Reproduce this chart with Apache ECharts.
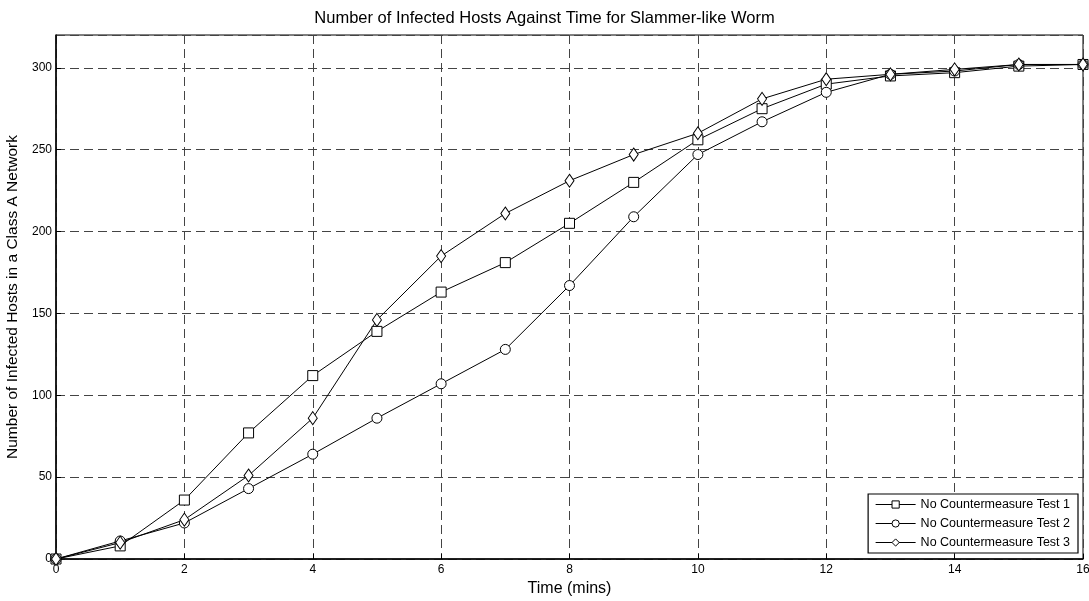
<!DOCTYPE html>
<html>
<head>
<meta charset="utf-8">
<script src="https://cdn.jsdelivr.net/npm/echarts@6/dist/echarts.min.js"></script>
<style>
    html, body { margin: 0; padding: 0; background: #fff; }
    #worm-chart { width: 1089px; height: 601px; }
</style>
</head>
<body>
<div id="worm-chart"></div>
<script>
// data
var minutes = [0, 1, 2, 3, 4, 5, 6, 7, 8, 9, 10, 11, 12, 13, 14, 15, 16];
var test1 = [0, 8, 36, 77, 112, 139, 163, 181, 205, 230, 256, 275, 290, 295, 297, 301, 302];
var test2 = [0, 11, 22, 43, 64, 86, 107, 128, 167, 209, 247, 267, 285, 296, 298, 302, 302];
var test3 = [0, 10, 24, 51, 86, 146, 185, 211, 231, 247, 260, 281, 293, 296, 299, 302, 302];
var seriesNames = ['No Countermeasure Test 1', 'No Countermeasure Test 2', 'No Countermeasure Test 3'];

function pairs(ys) {
    return minutes.map(function (m, i) { return [m, ys[i]]; });
}

function lineSeries(name, ys, symbol, size) {
    return {
        name: name,
        type: 'line',
        data: pairs(ys),
        symbol: symbol,
        symbolSize: size,
        showAllSymbol: true,
        lineStyle: { color: '#000', width: 1 },
        itemStyle: { color: '#fff', borderColor: '#000', borderWidth: 1 },
        emphasis: { disabled: true },
        animation: false
    };
}

var myChart = echarts.init(document.getElementById('worm-chart'));
var font = 'Liberation Sans, Arial, sans-serif';
var dashes = { color: '#444', type: [9, 5], width: 1 };
var option = {
    backgroundColor: '#fff',
    title: {
        text: 'Number of Infected Hosts Against Time for Slammer-like Worm',
        left: 'center',
        top: 5,
        textStyle: { fontFamily: font, fontSize: 16.5, fontWeight: 'normal', color: '#000' }
    },
    grid: {
        left: 56, right: 6, top: 35, bottom: 42,
        outerBoundsMode: 'none',
        containLabel: false,
        show: true, borderColor: '#000', borderWidth: 1
    },
    legend: {
        orient: 'vertical',
        right: 11,
        bottom: 48,
        itemWidth: 40,
        itemHeight: 9,
        itemGap: 6,
        padding: [4, 8, 4, 7],
        backgroundColor: '#fff',
        borderColor: '#000',
        borderWidth: 1.2,
        borderRadius: 0,
        lineStyle: { width: 1 },
        itemStyle: { borderWidth: 1 },
        textStyle: { fontFamily: font, fontSize: 12.5, color: '#000' },
        data: seriesNames
    },
    xAxis: {
        type: 'value',
        min: 0, max: 16, interval: 2,
        name: 'Time (mins)',
        nameLocation: 'middle',
        nameGap: 21,
        nameTextStyle: { fontFamily: font, fontSize: 16, color: '#000' },
        axisLine: { lineStyle: { color: '#000', width: 1.5 } },
        axisTick: { inside: true, length: 5, lineStyle: { color: '#000' } },
        axisLabel: { fontFamily: font, fontSize: 12, color: '#000', margin: 5 },
        splitLine: { show: true, lineStyle: dashes }
    },
    yAxis: {
        type: 'value',
        min: 0, max: 320, interval: 50,
        name: 'Number of Infected Hosts in a Class A Network',
        nameLocation: 'middle',
        nameGap: 33,
        nameTextStyle: { fontFamily: font, fontSize: 15.5, color: '#000' },
        axisLine: { show: true, lineStyle: { color: '#000', width: 1.5 } },
        axisTick: { show: true, inside: true, length: 5, lineStyle: { color: '#000' } },
        axisLabel: { fontFamily: font, fontSize: 12, color: '#000', margin: 4, showMaxLabel: false },
        splitLine: { show: true, lineStyle: dashes }
    },
    series: [
        lineSeries(seriesNames[0], test1, 'rect', 10),
        lineSeries(seriesNames[1], test2, 'circle', 10),
        lineSeries(seriesNames[2], test3, 'diamond', [9, 13])
    ]
};
myChart.setOption(option);
</script>
</body>
</html>
